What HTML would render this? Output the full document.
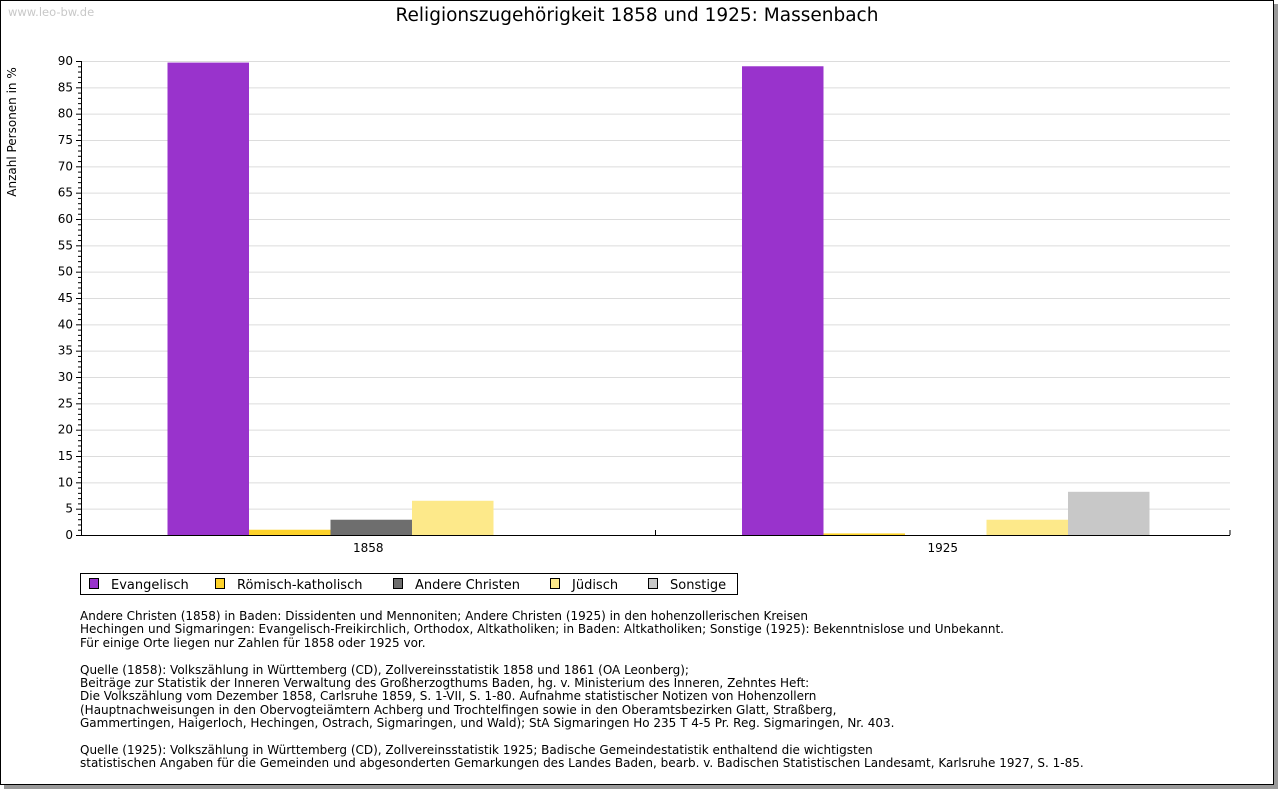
<!DOCTYPE html>
<html><head><meta charset="utf-8"><style>
body{margin:0;background:#fff;width:1280px;height:791px;overflow:hidden;font-family:"DejaVu Sans","Liberation Sans",sans-serif}
svg{position:absolute;left:0;top:0}
.notes{position:absolute;left:80px;top:610px;font-size:12px;line-height:13.4px;color:#000;white-space:pre}
</style></head><body>
<svg width="1280" height="791" id="chart">
<rect x="4" y="4" width="1274" height="785" fill="#999"/>
<rect x="0.5" y="0.5" width="1273" height="784" fill="#fff" stroke="#000"/>
<text x="8" y="16" font-size="11.5" fill="#c8c8c8">www.leo-bw.de</text>
<text x="637" y="21" font-size="18.5" text-anchor="middle">Religionszugehörigkeit 1858 und 1925: Massenbach</text>
<text transform="translate(16,132) rotate(-90)" font-size="12" text-anchor="middle">Anzahl Personen in %</text>
<g id="grid"></g><g id="bars"></g><g id="axes"></g>
<g>
<rect x="80.5" y="573.5" width="657" height="21" fill="#fff" stroke="#000"/>
<g id="legend"></g>
</g>
</svg>
<div class="notes">Andere Christen (1858) in Baden: Dissidenten und Mennoniten; Andere Christen (1925) in den hohenzollerischen Kreisen
Hechingen und Sigmaringen: Evangelisch-Freikirchlich, Orthodox, Altkatholiken; in Baden: Altkatholiken; Sonstige (1925): Bekenntnislose und Unbekannt.
Für einige Orte liegen nur Zahlen für 1858 oder 1925 vor.

Quelle (1858): Volkszählung in Württemberg (CD), Zollvereinsstatistik 1858 und 1861 (OA Leonberg);
Beiträge zur Statistik der Inneren Verwaltung des Großherzogthums Baden, hg. v. Ministerium des Inneren, Zehntes Heft:
Die Volkszählung vom Dezember 1858, Carlsruhe 1859, S. 1-VII, S. 1-80. Aufnahme statistischer Notizen von Hohenzollern
(Hauptnachweisungen in den Obervogteiämtern Achberg und Trochtelfingen sowie in den Oberamtsbezirken Glatt, Straßberg,
Gammertingen, Haigerloch, Hechingen, Ostrach, Sigmaringen, und Wald); StA Sigmaringen Ho 235 T 4-5 Pr. Reg. Sigmaringen, Nr. 403.

Quelle (1925): Volkszählung in Württemberg (CD), Zollvereinsstatistik 1925; Badische Gemeindestatistik enthaltend die wichtigsten
statistischen Angaben für die Gemeinden und abgesonderten Gemarkungen des Landes Baden, bearb. v. Badischen Statistischen Landesamt, Karlsruhe 1927, S. 1-85.</div>
<script>
const categories=["1858","1925"];
const seriesNames=["Evangelisch","Römisch-katholisch","Andere Christen","Jüdisch","Sonstige"];
const seriesColors=["#9933cc","#fdd22a","#6e6e6e","#fde98a","#c8c8c8"];
const evangelisch=[89.7,89.0];
const katholisch=[1.0,0.3];
const andere=[2.9,0];
const juedisch=[6.5,2.9];
const sonstige=[0,8.2];
const yTicks=[0,5,10,15,20,25,30,35,40,45,50,55,60,65,70,75,80,85,90];
const series=[evangelisch,katholisch,andere,juedisch,sonstige];
const NS="http://www.w3.org/2000/svg";
const X0=81,X1=1230,Y0=535,Y1=61,YMAX=90;
const y=v=>Y0-(v/YMAX)*(Y0-Y1);
const catW=(X1-X0)/categories.length;
const barW=81.5;
const bx=(ci,si)=>X0+ci*catW+(catW-barW*series.length)/2+si*barW+3;
function mk(t,a,p){const e=document.createElementNS(NS,t);for(const k in a)e.setAttribute(k,a[k]);p.appendChild(e);return e;}
const grid=document.getElementById('grid'),axes=document.getElementById('axes'),bars=document.getElementById('bars'),leg=document.getElementById('legend');
yTicks.forEach(v=>{
 if(v>0){const l=mk('line',{x1:X0,x2:X1,y1:y(v)+0.5,y2:y(v)+0.5,stroke:'#dcdcdc'},grid);
 
 }
 mk('line',{x1:X0-5,x2:X0,y1:y(v)+0.5,y2:y(v)+0.5,stroke:'#000'},axes);
 const t=mk('text',{x:X0-8,y:y(v)+4,'font-size':12,'text-anchor':'end'},axes);t.textContent=v;
 
 
});
for(let v=1;v<YMAX;v++){if(v%5)mk('line',{x1:X0-3,x2:X0,y1:y(v)+0.5,y2:y(v)+0.5,stroke:'#000'},axes);}
mk('line',{x1:X0+0.5,x2:X0+0.5,y1:Y1,y2:Y0,stroke:'#000'},axes);
mk('line',{x1:X0,x2:X1,y1:Y0+0.5,y2:Y0+0.5,stroke:'#000'},axes);
for(let i=1;i<=categories.length;i++){mk('line',{x1:X0+i*catW,x2:X0+i*catW,y1:Y0-5,y2:Y0,stroke:'#000'},axes);}
categories.forEach((c,ci)=>{
 const t=mk('text',{x:X0+ci*catW+catW/2,y:Y0+17,'font-size':12,'text-anchor':'middle'},axes);t.textContent=c;
 
 
 series.forEach((s,si)=>{
  const v=s[ci];if(v<=0)return;
  const r=mk('rect',{x:bx(ci,si),y:y(v),width:barW,height:Y0-y(v),fill:seriesColors[si]},bars);
  
  
 });
});
const lx=[89,215,393,550,648];
seriesNames.forEach((n,i)=>{
 mk('rect',{x:lx[i]+0.5,y:578.5,width:9,height:10,fill:seriesColors[i],stroke:'#000'},leg);
 const t=mk('text',{x:lx[i]+22,y:589,'font-size':13},leg);t.textContent=n;
 
 
});
</script>
</body></html>
